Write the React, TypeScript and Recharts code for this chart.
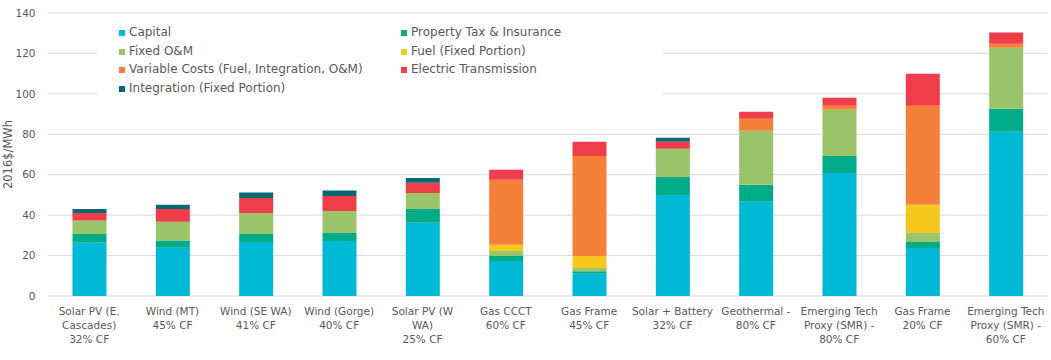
import React from 'react';
import { BarChart, Bar, XAxis, YAxis, CartesianGrid, Legend } from 'recharts';

const categories = [
  'Solar PV (E.\nCascades)\n32% CF',
  'Wind (MT)\n45% CF',
  'Wind (SE WA)\n41% CF',
  'Wind (Gorge)\n40% CF',
  'Solar PV (W\nWA)\n25% CF',
  'Gas CCCT\n60% CF',
  'Gas Frame\n45% CF',
  'Solar + Battery\n32% CF',
  'Geothermal -\n80% CF',
  'Emerging Tech\nProxy (SMR) -\n80% CF',
  'Gas Frame\n20% CF',
  'Emerging Tech\nProxy (SMR) -\n60% CF',
];
const capital = [26.3, 23.9, 26.7, 27.2, 36.2, 17.3, 11.0, 50.0, 46.6, 60.9, 23.8, 81.2];
const propertyTax = [4.4, 3.5, 4.0, 4.0, 6.9, 2.5, 1.2, 8.9, 8.4, 8.4, 2.9, 11.4];
const fixedOM = [6.6, 9.3, 10.4, 10.9, 7.9, 2.5, 1.7, 13.9, 26.7, 22.8, 4.5, 30.2];
const fuelFixed = [0, 0, 0, 0, 0, 3.0, 5.9, 0, 0, 0, 13.9, 0];
const variableCosts = [0, 0, 0, 0, 0, 32.2, 49.5, 0, 6.0, 2.0, 49.0, 2.0];
const transmission = [3.8, 6.4, 7.4, 7.4, 5.0, 4.9, 7.0, 3.5, 3.4, 4.0, 15.9, 5.5];
const integration = [2.0, 2.0, 2.7, 2.7, 2.4, 0, 0, 2.0, 0, 0, 0, 0];
const yTicks = [0, 20, 40, 60, 80, 100, 120, 140];

const series = [
  { key: 'capital', name: 'Capital', color: '#00B9D4', values: capital },
  { key: 'propertyTax', name: 'Property Tax & Insurance', color: '#00AC88', values: propertyTax },
  { key: 'fixedOM', name: 'Fixed O&M', color: '#9BC36A', values: fixedOM },
  { key: 'fuelFixed', name: 'Fuel (Fixed Portion)', color: '#F6C81E', values: fuelFixed },
  { key: 'variableCosts', name: 'Variable Costs (Fuel, Integration, O&M)', color: '#F5803A', values: variableCosts },
  { key: 'transmission', name: 'Electric Transmission', color: '#EF3E4A', values: transmission },
  { key: 'integration', name: 'Integration (Fixed Portion)', color: '#086876', values: integration },
];

const data = categories.map((c, i) => {
  const row: Record<string, any> = { name: c };
  series.forEach((s) => {
    row[s.key] = s.values[i];
  });
  return row;
});

const FONT = '"DejaVu Sans", Verdana, sans-serif';
const TEXT = '#595959';

const XTick = (props: any) => {
  const { x, y, payload } = props;
  const lines = String(payload.value).split('\n');
  return (
    <text x={x} y={y} textAnchor="middle" fill={TEXT} fontSize={10.5} fontFamily={FONT}>
      {lines.map((l, i) => (
        <tspan key={i} x={x} dy={i === 0 ? 19 : 14}>
          {l}
        </tspan>
      ))}
    </text>
  );
};

const LegendContent = () => (
  <div
    style={{
      display: 'grid',
      gridTemplateColumns: '282px 282px',
      paddingTop: 2,
      paddingLeft: 22,
      fontFamily: FONT,
      fontSize: 12,
      color: TEXT,
      lineHeight: '17.7px',
      background: '#fff',
      height: '100%',
      boxSizing: 'border-box',
    }}
  >
    {series.map((s) => (
      <div key={s.key} style={{ display: 'flex', alignItems: 'center', whiteSpace: 'nowrap' }}>
        <span style={{ display: 'inline-block', width: 6, height: 6, background: s.color, marginRight: 4 }} />
        <span>{s.name}</span>
      </div>
    ))}
  </div>
);

const YLabel = () => (
  <text
    x={8}
    y={154.5}
    transform="rotate(-90 8 154.5)"
    textAnchor="middle"
    dominantBaseline="central"
    fill={TEXT}
    fontSize={11.5}
    fontFamily={FONT}
  >
    2016$/MWh
  </text>
);

export default function App() {
  return (
    <div style={{ position: 'absolute', left: 0, top: 0, width: 1051, height: 360, background: '#fff' }}>
      <BarChart
        width={1051}
        height={360}
        data={data}
        margin={{ top: 13, right: 3.5, bottom: 0, left: 0 }}
        barSize={34}
      >
        <CartesianGrid vertical={false} stroke="#D9D9D9" />
        <XAxis
          dataKey="name"
          interval={0}
          tickLine={false}
          axisLine={false}
          tickSize={0}
          tickMargin={0}
          height={64}
          tick={<XTick />}
        />
        <YAxis
          width={47.5}
          domain={[0, 140]}
          ticks={yTicks}
          interval={0}
          tickLine={false}
          axisLine={false}
          tickMargin={6}
          tick={{ fill: TEXT, fontSize: 10.5, fontFamily: FONT }}
          label={<YLabel />}
        />
        <Legend
          layout="horizontal"
          verticalAlign="middle"
          align="center"
          content={<LegendContent />}
          wrapperStyle={{ position: 'absolute', left: 97, top: 22, width: 566, height: 76, margin: 0 }}
        />
        {series.map((s) => (
          <Bar key={s.key} dataKey={s.key} name={s.name} stackId="a" fill={s.color} isAnimationActive={false} />
        ))}
      </BarChart>
    </div>
  );
}
